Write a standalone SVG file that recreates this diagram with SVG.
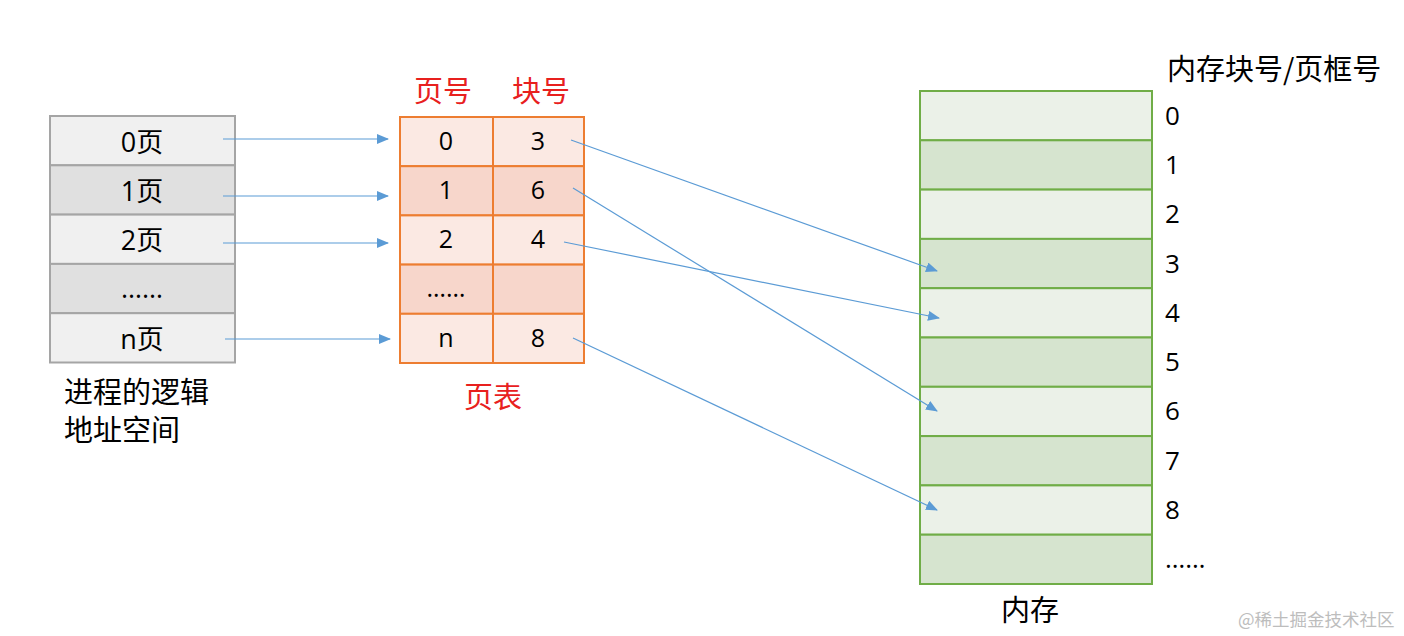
<svg xmlns="http://www.w3.org/2000/svg" width="1404" height="636" viewBox="0 0 1404 636">
<style>
text{font-family:"Open Sans","Noto Sans CJK SC",sans-serif;fill:#000}
.cn{font-family:"Noto Sans CJK SC",sans-serif}
.red{fill:#e8201e}
.lc{font-size:27px;text-anchor:middle}
.tc{font-size:25px;text-anchor:middle}
.mn{font-size:26px}
.lbl{font-size:29px}
.gl{fill:#f0f0f0;stroke:#a5a5a5;stroke-width:2}
.gd{fill:#e0e0e0;stroke:#a5a5a5;stroke-width:2}
.ol{fill:#fbe9e3;stroke:#ed7d31;stroke-width:2}
.od{fill:#f7d6cb;stroke:#ed7d31;stroke-width:2}
.ml{fill:#ebf1e8;stroke:#70ad47;stroke-width:2}
.md{fill:#d6e4cf;stroke:#70ad47;stroke-width:2}
.ar{stroke:#5b9bd5;stroke-width:1.2;fill:none;marker-end:url(#ah)}
</style>
<defs>
<marker id="ah" viewBox="0 0 12 10" refX="11" refY="5" markerWidth="12" markerHeight="10" markerUnits="userSpaceOnUse" orient="auto">
<path d="M0,0 L12,5 L0,10 Z" fill="#5b9bd5"/>
</marker>
</defs>
<rect width="1404" height="636" fill="#ffffff"/>

<g id="logical-space">
<rect class="gl" x="50" y="116" width="185" height="49.3"/>
<rect class="gd" x="50" y="165.3" width="185" height="49.3"/>
<rect class="gl" x="50" y="214.6" width="185" height="49.3"/>
<rect class="gd" x="50" y="263.9" width="185" height="49.3"/>
<rect class="gl" x="50" y="313.2" width="185" height="49.3"/>
<text class="lc" x="142" y="152">0页</text>
<text class="lc" x="142" y="201">1页</text>
<text class="lc" x="142" y="250">2页</text>
<text class="lc" x="142" y="298">……</text>
<text class="lc" x="142" y="349">n页</text>
<text class="lbl cn" x="64" y="403">进程的逻辑</text>
<text class="lbl cn" x="64" y="441">地址空间</text>
</g>

<g id="page-table">
<text class="lbl cn red" x="443" y="102" text-anchor="middle">页号</text>
<text class="lbl cn red" x="541" y="102" text-anchor="middle">块号</text>
<rect class="ol" x="400" y="117" width="93" height="49.2"/>
<rect class="ol" x="493" y="117" width="91" height="49.2"/>
<rect class="od" x="400" y="166.2" width="93" height="49.2"/>
<rect class="od" x="493" y="166.2" width="91" height="49.2"/>
<rect class="ol" x="400" y="215.4" width="93" height="49.2"/>
<rect class="ol" x="493" y="215.4" width="91" height="49.2"/>
<rect class="od" x="400" y="264.6" width="93" height="49.2"/>
<rect class="od" x="493" y="264.6" width="91" height="49.2"/>
<rect class="ol" x="400" y="313.8" width="93" height="49.2"/>
<rect class="ol" x="493" y="313.8" width="91" height="49.2"/>
<text class="tc" x="446" y="150">0</text>
<text class="tc" x="538" y="150">3</text>
<text class="tc" x="446" y="199">1</text>
<text class="tc" x="538" y="199">6</text>
<text class="tc" x="446" y="248">2</text>
<text class="tc" x="538" y="248">4</text>
<text class="tc" x="446" y="297">……</text>
<text class="tc" x="446" y="347">n</text>
<text class="tc" x="538" y="347">8</text>
<text class="lbl cn red" x="493" y="408" text-anchor="middle">页表</text>
</g>

<g id="memory">
<text class="lbl cn" x="1167" y="80">内存块号/页框号</text>
<rect class="ml" x="920" y="91" width="232" height="49.3"/>
<rect class="md" x="920" y="140.3" width="232" height="49.3"/>
<rect class="ml" x="920" y="189.6" width="232" height="49.3"/>
<rect class="md" x="920" y="238.9" width="232" height="49.3"/>
<rect class="ml" x="920" y="288.2" width="232" height="49.3"/>
<rect class="md" x="920" y="337.5" width="232" height="49.3"/>
<rect class="ml" x="920" y="386.8" width="232" height="49.3"/>
<rect class="md" x="920" y="436.1" width="232" height="49.3"/>
<rect class="ml" x="920" y="485.4" width="232" height="49.3"/>
<rect class="md" x="920" y="534.7" width="232" height="49.3"/>
<text class="mn" x="1165" y="125">0</text>
<text class="mn" x="1165" y="174">1</text>
<text class="mn" x="1165" y="223">2</text>
<text class="mn" x="1165" y="273">3</text>
<text class="mn" x="1165" y="322">4</text>
<text class="mn" x="1165" y="371">5</text>
<text class="mn" x="1165" y="420">6</text>
<text class="mn" x="1165" y="470">7</text>
<text class="mn" x="1165" y="519">8</text>
<text class="mn" x="1165" y="568">……</text>
<text class="lbl cn" x="1030" y="621" text-anchor="middle">内存</text>
</g>

<g id="connectors">
<line class="ar" x1="223" y1="139" x2="388" y2="139"/>
<line class="ar" x1="223" y1="196" x2="388" y2="196"/>
<line class="ar" x1="223" y1="243" x2="388" y2="243"/>
<line class="ar" x1="225" y1="339" x2="390" y2="339"/>
<line class="ar" x1="571" y1="140" x2="937" y2="271"/>
<line class="ar" x1="573" y1="188" x2="937" y2="411"/>
<line class="ar" x1="564" y1="242" x2="939" y2="318"/>
<line class="ar" x1="573" y1="338" x2="937" y2="510"/>
</g>

<text class="cn" x="1238" y="626" font-size="17.5" style="fill:#bdbdbd">@稀土掘金技术社区</text>
</svg>
